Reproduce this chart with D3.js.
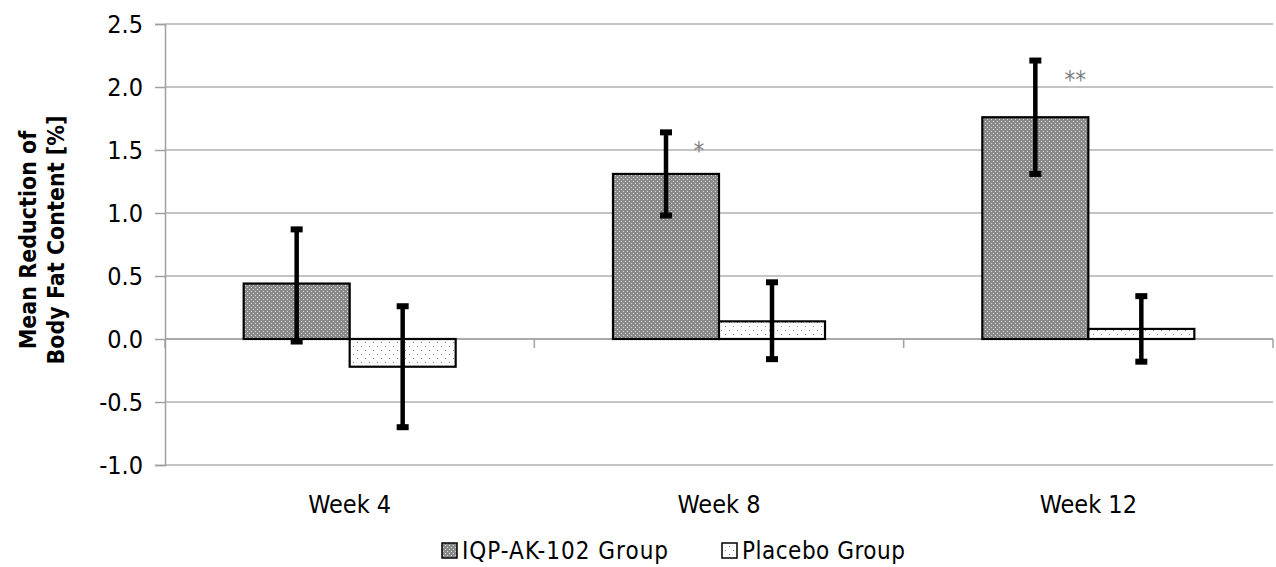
<!DOCTYPE html>
<html><head><meta charset="utf-8">
<script src="https://cdn.jsdelivr.net/npm/d3@7"></script>
<style>body{margin:0;background:#fff}svg{display:block}text{font-family:"DejaVu Sans Condensed","DejaVu Sans",sans-serif;font-stretch:condensed}</style>
</head><body>
<svg id="c" width="1276" height="567"></svg>
<script>
const categories = ["Week 4","Week 8","Week 12"];
const seriesNames = ["IQP-AK-102 Group","Placebo Group"];
const iqpMean = [0.44, 1.31, 1.76];
const iqpErrHigh = [0.87, 1.64, 2.21];
const iqpErrLow = [-0.02, 0.98, 1.31];
const placeboMean = [-0.22, 0.14, 0.08];
const placeboErrHigh = [0.26, 0.45, 0.34];
const placeboErrLow = [-0.70, -0.16, -0.18];
const significance = ["", "*", "**"];
const yTicks = [-1.0,-0.5,0.0,0.5,1.0,1.5,2.0,2.5];

(function(){
const svg = d3.select("#c");
const defs = svg.append("defs");
const p1 = defs.append("pattern").attr("id","pDark").attr("patternUnits","userSpaceOnUse").attr("width",4).attr("height",4);
p1.append("rect").attr("width",4).attr("height",4).attr("fill","#8a8a8a");
p1.append("rect").attr("x",1).attr("y",1).attr("width",1).attr("height",1).attr("fill","#d8d8d8");
p1.append("rect").attr("x",3).attr("y",3).attr("width",1).attr("height",1).attr("fill","#d8d8d8");
const p2 = defs.append("pattern").attr("id","pLight").attr("patternUnits","userSpaceOnUse").attr("width",8).attr("height",8);
p2.append("rect").attr("width",8).attr("height",8).attr("fill","#fff");
p2.append("rect").attr("x",1).attr("y",2).attr("width",1).attr("height",1).attr("fill","#888");
p2.append("rect").attr("x",5).attr("y",6).attr("width",1).attr("height",1).attr("fill","#888");

const mL = 165, mR = 1273, mT = 24, mB = 465;
const y = d3.scaleLinear().domain([-1,2.5]).range([mB, mT]);
const x = d3.scaleBand().domain(categories).range([mL,mR]).paddingInner(0.426).paddingOuter(0.213);
const xs = d3.scaleBand().domain(seriesNames).range([0,x.bandwidth()]);

svg.append("g").selectAll("line").data(yTicks).join("line")
  .attr("x1",mL).attr("x2",mR).attr("y1",d=>y(d)).attr("y2",d=>y(d))
  .attr("stroke","#b0b0b0").attr("stroke-width",1.5);

const ya = svg.append("g").attr("transform",`translate(${mL},0)`)
  .call(d3.axisLeft(y).tickValues(yTicks).tickSize(10).tickPadding(12));
ya.select(".domain").attr("stroke","#a0a0a0").attr("stroke-width",1.5);
ya.selectAll(".tick line").attr("stroke","#a0a0a0").attr("stroke-width",1.5);
ya.selectAll("text").attr("font-size",25).attr("fill","#000").text(d=>d<0?"-"+Math.abs(d).toFixed(1):d.toFixed(1));

const xa = svg.append("g").attr("transform",`translate(0,${y(0)})`);
xa.append("line").attr("x1",mL).attr("x2",mR).attr("stroke","#a0a0a0").attr("stroke-width",1.5);
const bounds = [0,1,2,3].map(i=> mL + i*(mR-mL)/3);
xa.selectAll("line.t").data(bounds).join("line").attr("class","t")
  .attr("x1",d=>d).attr("x2",d=>d).attr("y1",0).attr("y2",9).attr("stroke","#a0a0a0").attr("stroke-width",1.5);

svg.append("g").selectAll("text").data(categories).join("text")
  .attr("x",d=>x(d)+x.bandwidth()/2).attr("y",513).attr("text-anchor","middle")
  .attr("font-size",25).text(d=>d);

const series = [
  {name:seriesNames[0], mean:iqpMean, hi:iqpErrHigh, lo:iqpErrLow, fill:"url(#pDark)"},
  {name:seriesNames[1], mean:placeboMean, hi:placeboErrHigh, lo:placeboErrLow, fill:"url(#pLight)"}
];
series.forEach(s=>{
  svg.append("g").selectAll("rect").data(categories).join("rect")
    .attr("x",d=>x(d)+xs(s.name)).attr("width",xs.bandwidth())
    .attr("y",(d,i)=>y(Math.max(0,s.mean[i]))).attr("height",(d,i)=>Math.abs(y(s.mean[i])-y(0)))
    .attr("fill",s.fill).attr("stroke","#000").attr("stroke-width",2.2);
});
series.forEach(s=>{
  const g = svg.append("g");
  categories.forEach((c,i)=>{
    const cx = x(c)+xs(s.name)+xs.bandwidth()/2;
    g.append("line").attr("x1",cx).attr("x2",cx).attr("y1",y(s.hi[i])).attr("y2",y(s.lo[i])).attr("stroke","#000").attr("stroke-width",4.5);
    [s.hi[i],s.lo[i]].forEach(v=>{
      g.append("rect").attr("x",cx-6).attr("y",y(v)-3).attr("width",12).attr("height",6).attr("fill","#000");
    });
  });
});

svg.append("g").selectAll("text").data(categories).join("text")
  .attr("x",(d,i)=>x(d)+xs(seriesNames[0])+xs.bandwidth()/2+33+(significance[i].length-1)*7)
  .attr("y",(d,i)=>y(iqpErrHigh[i])+27)
  .attr("text-anchor","middle").attr("font-size",24).attr("fill","#808080")
  .text((d,i)=>significance[i]);

const yt = svg.append("text").attr("transform","translate(41,240) rotate(-90)").attr("text-anchor","middle")
  .attr("font-size",23).attr("font-weight","bold");
yt.append("tspan").attr("x",0).attr("dy","-0.2em").text("Mean Reduction of");
yt.append("tspan").attr("x",0).attr("dy","1.2em").text("Body Fat Content [%]");

const lg = svg.append("g");
const lx = [442, 722];
series.forEach((s,i)=>{
  lg.append("rect").attr("x",lx[i]).attr("y",543).attr("width",15).attr("height",15).attr("fill",s.fill).attr("stroke","#000").attr("stroke-width",1.5);
  lg.append("text").attr("x",lx[i]+20).attr("y",559).attr("font-size",24).attr("letter-spacing",i===0?1:0.5).text(s.name);
});
})();
</script>
</body></html>
